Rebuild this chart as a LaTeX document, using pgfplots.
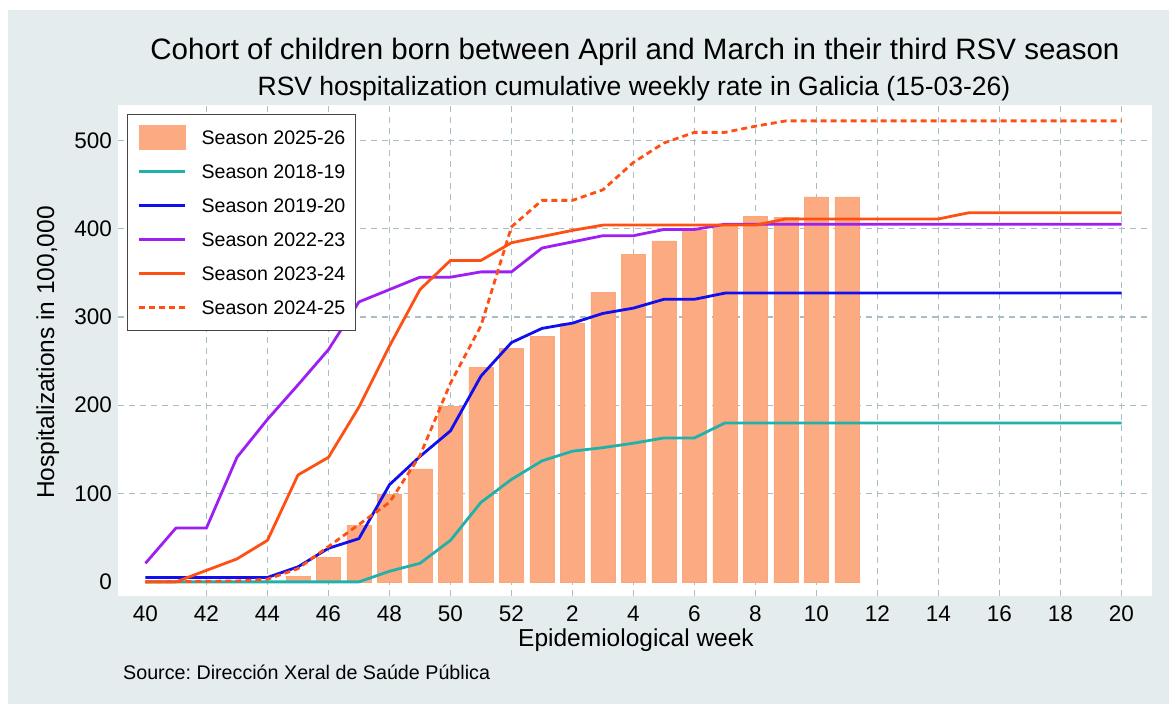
\documentclass[border=0pt]{standalone}
\usepackage{fontspec}
\setmainfont{Liberation Sans}
\usepackage{pgfplots}
\pgfplotsset{compat=1.18}
\definecolor{bgc}{HTML}{E4ECEE}
\definecolor{gridc}{HTML}{A8BEC4}
\definecolor{barc}{HTML}{FCAA82}
\definecolor{tealc}{HTML}{20B2AA}
\definecolor{bluec}{HTML}{0F0FF0}
\definecolor{purc}{HTML}{9D1FF2}
\definecolor{orc}{HTML}{FF5014}
\definecolor{legb}{HTML}{454545}
\frenchspacing
\begin{document}
\begin{tikzpicture}[x=1bp,y=1bp]
\fill[white] (0,0) rectangle (1169,704);
\fill[bgc] (8,0) rectangle (1169,694);
\begin{axis}[
  at={(118bp,108bp)}, anchor=south west,
  scale only axis, width=1034bp, height=491bp,
  xmin=-0.9, xmax=33.0, ymin=-16, ymax=540,
  axis background/.style={fill=white},
  axis line style={draw=none},
  major tick length=0pt,
  xtick={2,4,...,32},
  xticklabels={42,44,46,48,50,52,2,4,6,8,10,12,14,16,18,20},
  extra x ticks={0}, extra x tick labels={40},
  extra x tick style={grid=none},
  ytick={100,200,...,500},
  extra y ticks={0},
  extra y tick style={grid=none},
  /pgf/number format/assume math mode=true,
  grid=major,
  major grid style={gridc, line width=1.4bp, dash pattern=on 6bp off 5bp},
  xticklabel style={font=\fontsize{22.5bp}{26bp}\selectfont, inner sep=0pt, anchor=north, yshift=-10bp},
  yticklabel style={font=\fontsize{22.5bp}{26bp}\selectfont, inner sep=0pt, anchor=east, xshift=-6bp},
  legend cell align=left,
  legend style={at={(0.0087,0.9817)}, anchor=north west,
    draw=legb, line width=1.5bp, fill=white,
    inner xsep=10bp, inner ysep=6bp, row sep=0pt, column sep=15bp,
    font=\fontsize{19.6bp}{22bp}\selectfont,
    cells={anchor=center},
    nodes={inner xsep=0pt, inner ysep=7bp, text height=17bp, text depth=3bp}},
  legend image code/.code={\draw[#1] (0bp,0bp) -- (46bp,0bp);},
]
\addplot[ybar, bar width=24bp, fill=barc, draw=barc!92!orange, line width=0.6bp,
  legend image code/.code={\fill[barc] (0bp,-12bp) rectangle (46bp,12bp);}]
  coordinates {(5,6) (6,28) (7,64) (8,99) (9,128) (10,199) (11,243) (12,264) (13,278) (14,293) (15,328) (16,371) (17,386) (18,398) (19,404) (20,414) (21,413) (22,436) (23,436)};
\addlegendentry{Season 2025-26}
\addplot[tealc, line width=2.8bp, line join=round]
  coordinates {(0,0)(7,0)(8,12)(9,21)(10,47)(11,90)(12,116)(13,137)(14,148)(15,152)(16,157)(17,163)(18,163)(19,180)(32,180)};
\addlegendentry{Season 2018-19}
\addplot[bluec, line width=2.8bp, line join=round]
  coordinates {(0,5)(4,5)(5,17)(6,38)(7,49)(8,110)(9,142)(10,171)(11,233)(12,271)(13,287)(14,293)(15,304)(16,310)(17,320)(18,320)(19,327)(32,327)};
\addlegendentry{Season 2019-20}
\addplot[purc, line width=2.8bp, line join=round]
  coordinates {(0,21)(1,61)(2,61)(3,141)(4,184)(5,223)(6,263)(7,317)(8,331)(9,345)(10,345)(11,351)(12,351)(13,378)(14,385)(15,392)(16,392)(17,399)(18,399)(19,405)(32,405)};
\addlegendentry{Season 2022-23}
\addplot[orc, line width=2.8bp, line join=round]
  coordinates {(0,0)(1,0)(2,13)(3,26)(4,47)(5,121)(6,141)(7,198)(8,267)(9,331)(10,364)(11,364)(12,384)(13,391)(14,398)(15,404)(20,404)(21,411)(26,411)(27,418)(32,418)};
\addlegendentry{Season 2023-24}
\addplot[orc, line width=2.8bp, dash pattern=on 6bp off 4bp]
  coordinates {(0,0)(3,1)(4,3)(5,15)(6,40)(7,65)(8,90)(9,143)(10,225)(11,290)(12,402)(13,432)(14,432)(15,444)(16,475)(17,497)(18,509)(19,509)(20,516)(21,522)(32,522)};
\addlegendentry{Season 2024-25}
\end{axis}
\node[anchor=base, font=\fontsize{29.5bp}{34bp}\selectfont] at (635,644) {Cohort of children born between April and March in their third RSV season};
\node[anchor=base, font=\fontsize{26.5bp}{30bp}\selectfont] at (634,608) {RSV hospitalization cumulative weekly rate in Galicia (15-03-26)};
\node[anchor=base, inner sep=0pt, font=\fontsize{24.5bp}{28bp}\selectfont] at (636,57) {Epidemiological week};
\node[anchor=base, inner sep=0pt, rotate=90, font=\fontsize{24.5bp}{28bp}\selectfont] at (54,351.5) {Hospitalizations in 100,000};
\node[anchor=base west, inner sep=0pt, font=\fontsize{19.7bp}{23bp}\selectfont] at (123,24) {Source: Dirección Xeral de Saúde Pública};
\end{tikzpicture}
\end{document}
